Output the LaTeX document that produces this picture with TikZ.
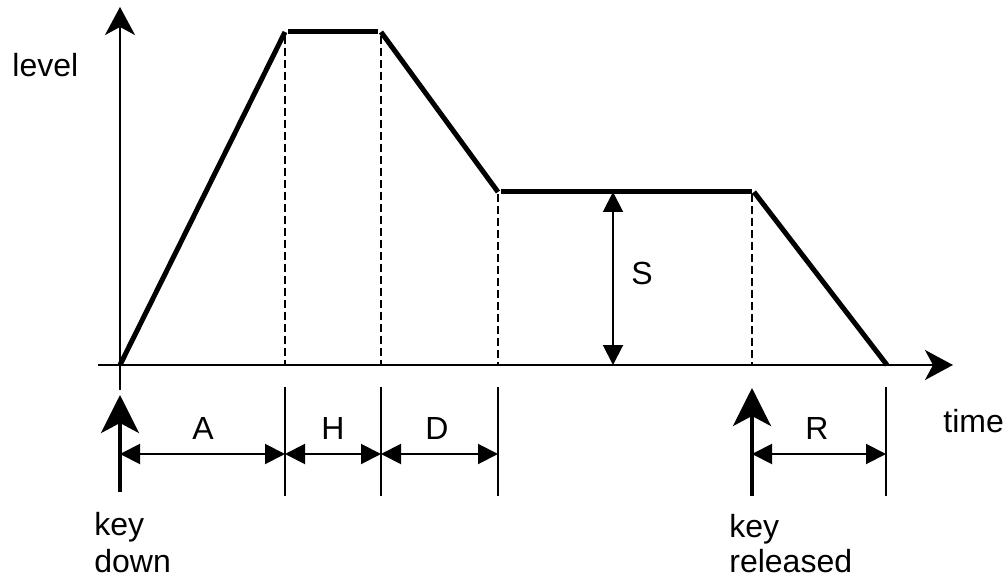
\documentclass[tikz,border=0pt]{standalone}
\usepackage{fontspec}
\setmainfont{Liberation Sans}
\usetikzlibrary{arrows.meta}
\begin{document}
\begin{tikzpicture}[x=0.5pt,y=-0.5pt,
  axis/.style={line width=1pt,-{Stealth[length=14pt,width=15pt,inset=4pt]}},
  env/.style={line width=2.5pt},
  guide/.style={line width=1pt,dash pattern=on 4pt off 2pt},
  tick/.style={line width=1pt},
  dim/.style={line width=1pt,{Triangle[length=10pt,width=10pt]}-{Triangle[length=10pt,width=10pt]}},
  keyarrow/.style={line width=2pt,-{Stealth[length=19pt,width=19pt,inset=5pt]}},
  lbl/.style={inner sep=0pt,font=\fontsize{16}{18.5}\selectfont}]
\useasboundingbox (0,0) rectangle (1008,583);

% axes
\coordinate (yb) at (120,390);
\coordinate (yt) at (120,7);
\coordinate (xl) at (98,365);
\coordinate (xr) at (953,365);
\draw[axis] (yb) -- (yt);
\draw[axis] (xl) -- (xr);

% envelope corners
\coordinate (p0) at (120,365);
\coordinate (p1) at (285,32);
\coordinate (p2) at (288,32);
\coordinate (p3) at (378,32);
\coordinate (p4) at (381,32);
\coordinate (p5) at (498,192);
\coordinate (p6) at (501,192);
\coordinate (p7) at (752,192);
\coordinate (p8) at (754,192);
\coordinate (p9) at (887,365);
\draw[env] (p0) -- (p1);
\draw[env] (p2) -- (p3);
\draw[env] (p4) -- (p5);
\draw[env] (p6) -- (p7);
\draw[env] (p8) -- (p9);

% dashed guides down to the time axis
\coordinate (g1) at (285,365);
\coordinate (g2) at (381,365);
\coordinate (g3) at (498,365);
\coordinate (g4) at (752,365);
\draw[guide] (285,36) -- (g1);
\draw[guide] (381,36) -- (g2);
\draw[guide] (498,194) -- (g3);
\draw[guide] (752,194) -- (g4);

% phase boundaries below the axis
\coordinate (t1a) at (285,387); \coordinate (t1b) at (285,496);
\coordinate (t2a) at (381,387); \coordinate (t2b) at (381,496);
\coordinate (t3a) at (498,387); \coordinate (t3b) at (498,496);
\coordinate (t4a) at (886,387); \coordinate (t4b) at (886,496);
\draw[tick] (t1a) -- (t1b);
\draw[tick] (t2a) -- (t2b);
\draw[tick] (t3a) -- (t3b);
\draw[tick] (t4a) -- (t4b);

% key events
\coordinate (kd0) at (120,492);
\coordinate (kd1) at (120,395);
\coordinate (kr0) at (752,496);
\coordinate (kr1) at (752,388);
\draw[keyarrow] (kd0) -- (kd1);
\draw[keyarrow] (kr0) -- (kr1);

% durations
\coordinate (a0) at (120,454); \coordinate (a1) at (285,454);
\coordinate (h1) at (381,454);
\coordinate (d1) at (498,454);
\coordinate (r0) at (752,454); \coordinate (r1) at (886,454);
\draw[dim] (a0) -- (a1);
\draw[dim] (a1) -- (h1);
\draw[dim] (h1) -- (d1);
\draw[dim] (r0) -- (r1);

% sustain level
\coordinate (s0) at (613,192);
\coordinate (s1) at (613,365);
\draw[dim] (s0) -- (s1);

% labels
\node[lbl,anchor=base] (lA) at (203,439) {A};
\node[lbl,anchor=base] (lH) at (333,439) {H};
\node[lbl,anchor=base] (lD) at (437,439) {D};
\node[lbl,anchor=base] (lR) at (817,439) {R};
\node[lbl,anchor=base] (lS) at (642,285) {S};
\node[lbl,anchor=base west] (level) at (12,77) {level};
\node[lbl,anchor=base west] (time) at (943,432) {time};
\node[lbl,anchor=base west] (key1) at (94,535) {key};
\node[lbl,anchor=base west] (down) at (94,572) {down};
\node[lbl,anchor=base west] (key2) at (729,537) {key};
\node[lbl,anchor=base west] (rel) at (729,572) {released};
\end{tikzpicture}
\end{document}
